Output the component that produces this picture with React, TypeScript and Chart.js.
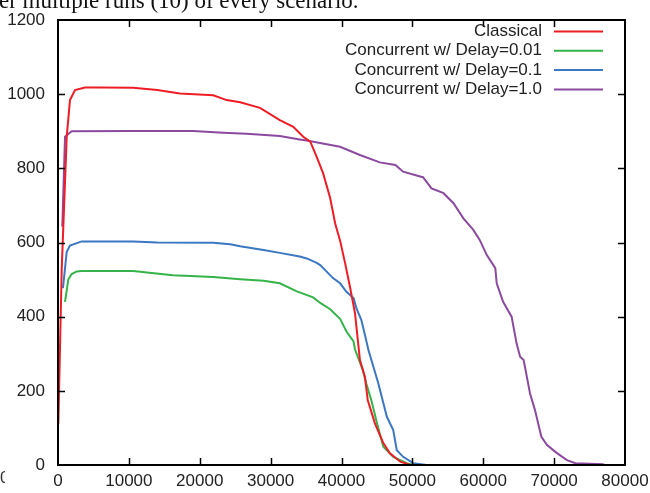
import React, { useEffect, useRef } from "react";
import { Chart, registerables } from "chart.js";

Chart.register(...registerables);

const titleText = "er multiple runs (10) of every scenario.";
const seriesLabels = [
  "Classical",
  "Concurrent w/ Delay=0.01",
  "Concurrent w/ Delay=0.1",
  "Concurrent w/ Delay=1.0",
];
const seriesColors = ["#ee1d25", "#36b34a", "#3b77c2", "#8b4a9f"];

const xTicks = [0, 10000, 20000, 30000, 40000, 50000, 60000, 70000, 80000];
const yTicks = [0, 200, 400, 600, 800, 1000, 1200];

const classicalX = [50, 520, 1230, 1690, 2400, 3800, 6000, 10600, 14000, 17200, 21900, 23800, 25700, 28500, 31300, 33200, 34600, 35600, 36500, 37400, 38400, 39100, 39800, 40500, 41200, 41900, 42600, 43300, 43700, 44700, 45900, 46800, 48300, 49700];
const classicalY = [110, 526, 885, 984, 1011, 1018, 1018, 1017, 1011, 1002, 997, 984, 978, 963, 930, 912, 885, 872, 831, 787, 720, 652, 605, 545, 480, 410, 283, 238, 175, 113, 59, 32, 9, 0];

const delay001X = [990, 1450, 1930, 2640, 3300, 10600, 16200, 21900, 25700, 29000, 31300, 33700, 36000, 37000, 38400, 39800, 40700, 41700, 41900, 43000, 43500, 44200, 45000, 45900, 47300, 49200, 50100];
const delay001Y = [440, 500, 515, 522, 523, 523, 512, 507, 501, 497, 490, 468, 452, 437, 420, 394, 360, 333, 312, 256, 220, 175, 113, 49, 22, 5, 0];

const delay01X = [700, 1230, 1690, 3340, 10600, 14000, 21900, 24300, 25700, 29000, 31300, 34100, 35100, 36500, 37000, 38800, 39800, 40700, 41700, 42100, 42800, 43300, 43800, 45200, 46400, 47300, 47800, 48700, 50100, 52000];
const delay01Y = [477, 575, 592, 603, 603, 600, 599, 595, 590, 580, 572, 562, 557, 545, 539, 504, 490, 467, 450, 423, 391, 351, 310, 220, 130, 94, 40, 22, 5, 0];

const delay1X = [610, 990, 1930, 10000, 19100, 23300, 26600, 31300, 34100, 35100, 39800, 42600, 45400, 47600, 48700, 51100, 51500, 52700, 54400, 55800, 57200, 58600, 59500, 60500, 61700, 61900, 62800, 64000, 64700, 65200, 65700, 66600, 67300, 68200, 69000, 70400, 71800, 73000, 77000];
const delay1Y = [643, 885, 900, 901, 901, 896, 893, 887, 878, 875, 858, 836, 816, 809, 791, 778, 776, 746, 733, 706, 665, 634, 607, 566, 531, 490, 440, 400, 328, 292, 283, 193, 148, 76, 54, 32, 13, 5, 2];

const seriesX = [classicalX, delay001X, delay01X, delay1X];
const seriesY = [classicalY, delay001Y, delay01Y, delay1Y];

const FONT = '"Liberation Sans", Arial, sans-serif';

const framePlugin = {
  id: "gnuplotFrame",
  afterDraw(chart: any) {
    const ctx = chart.ctx;
    const { left, right, top, bottom } = chart.chartArea;
    const xs = chart.scales.x;
    const ys = chart.scales.y;
    ctx.save();
    ctx.strokeStyle = "#000";
    ctx.lineWidth = 1.5;
    ctx.beginPath();
    xTicks.slice(1, -1).forEach((v) => {
      const px = Math.round(xs.getPixelForValue(v)) + 0.5;
      ctx.moveTo(px, bottom);
      ctx.lineTo(px, bottom - 7);
      ctx.moveTo(px, top);
      ctx.lineTo(px, top + 7);
    });
    yTicks.slice(1, -1).forEach((v) => {
      const py = Math.round(ys.getPixelForValue(v)) + 0.5;
      ctx.moveTo(left, py);
      ctx.lineTo(left + 7, py);
      ctx.moveTo(right, py);
      ctx.lineTo(right - 7, py);
    });
    ctx.stroke();
    ctx.lineWidth = 2;
    ctx.strokeRect(left, top, right - left, bottom - top);

    // legend
    ctx.font = `17px ${FONT}`;
    ctx.fillStyle = "#222";
    ctx.textAlign = "right";
    ctx.textBaseline = "middle";
    seriesLabels.forEach((lab, i) => {
      const yy = top + 11.5 + i * 19.3;
      ctx.fillText(lab, right - 83, yy);
      ctx.strokeStyle = seriesColors[i];
      ctx.lineWidth = 2;
      ctx.beginPath();
      ctx.moveTo(right - 71, yy);
      ctx.lineTo(right - 22, yy);
      ctx.stroke();
    });

    // cropped title from surrounding page
    ctx.font = '23px "Liberation Serif", "Times New Roman", serif';
    ctx.fillStyle = "#111";
    ctx.textAlign = "left";
    ctx.textBaseline = "alphabetic";
    ctx.fillText(titleText, -1, 8);

    // cropped fragment at bottom-left
    ctx.save();
    ctx.beginPath();
    ctx.rect(0, 465, 5, 28);
    ctx.clip();
    ctx.font = `17px ${FONT}`;
    ctx.fillStyle = "#333";
    ctx.textBaseline = "middle";
    ctx.fillText("0", 0, 478);
    ctx.restore();
    ctx.restore();
  },
};

export default function App() {
  const ref = useRef<HTMLCanvasElement | null>(null);
  useEffect(() => {
    if (!ref.current) return;
    const datasets = seriesLabels.map((lab, i) => ({
      label: lab,
      data: seriesX[i].map((x, j) => ({ x, y: seriesY[i][j] })),
      borderColor: seriesColors[i],
      backgroundColor: seriesColors[i],
      borderWidth: 2,
      pointRadius: 0,
      tension: 0,
      fill: false,
    }));
    const chart = new Chart(ref.current, {
      type: "line",
      data: { datasets },
      options: {
        animation: false,
        responsive: false,
        maintainAspectRatio: false,
        layout: { padding: { left: 0, right: 25, top: 20, bottom: 0 } },
        plugins: { legend: { display: false }, tooltip: { enabled: false }, title: { display: false } },
        scales: {
          x: {
            type: "linear",
            min: 0,
            max: 80000,
            grid: { display: false, drawTicks: false },
            border: { display: false },
            afterFit: (s: any) => {
              s.height = 28;
              s.paddingLeft = 0;
              s.paddingRight = 0;
            },
            afterBuildTicks: (s: any) => {
              s.ticks = xTicks.map((v) => ({ value: v }));
            },
            ticks: {
              autoSkip: false,
              maxRotation: 0,
              padding: 6,
              color: "#222",
              font: { family: FONT, size: 17 },
              callback: (v: any) => String(v),
            },
          },
          y: {
            type: "linear",
            min: 0,
            max: 1200,
            grid: { display: false, drawTicks: false },
            border: { display: false },
            afterFit: (s: any) => {
              s.width = 58;
              s.paddingTop = 0;
              s.paddingBottom = 0;
            },
            afterBuildTicks: (s: any) => {
              s.ticks = yTicks.map((v) => ({ value: v }));
            },
            ticks: {
              autoSkip: false,
              padding: 13,
              color: "#222",
              font: { family: FONT, size: 17 },
              callback: (v: any) => String(v),
            },
          },
        },
      },
      plugins: [framePlugin],
    });
    return () => chart.destroy();
  }, []);
  return (
    <div style={{ position: "fixed", left: 0, top: 0, width: 650, height: 493, background: "#fff" }}>
      <canvas ref={ref} width={650} height={493} style={{ display: "block", width: 650, height: 493 }} />
    </div>
  );
}
